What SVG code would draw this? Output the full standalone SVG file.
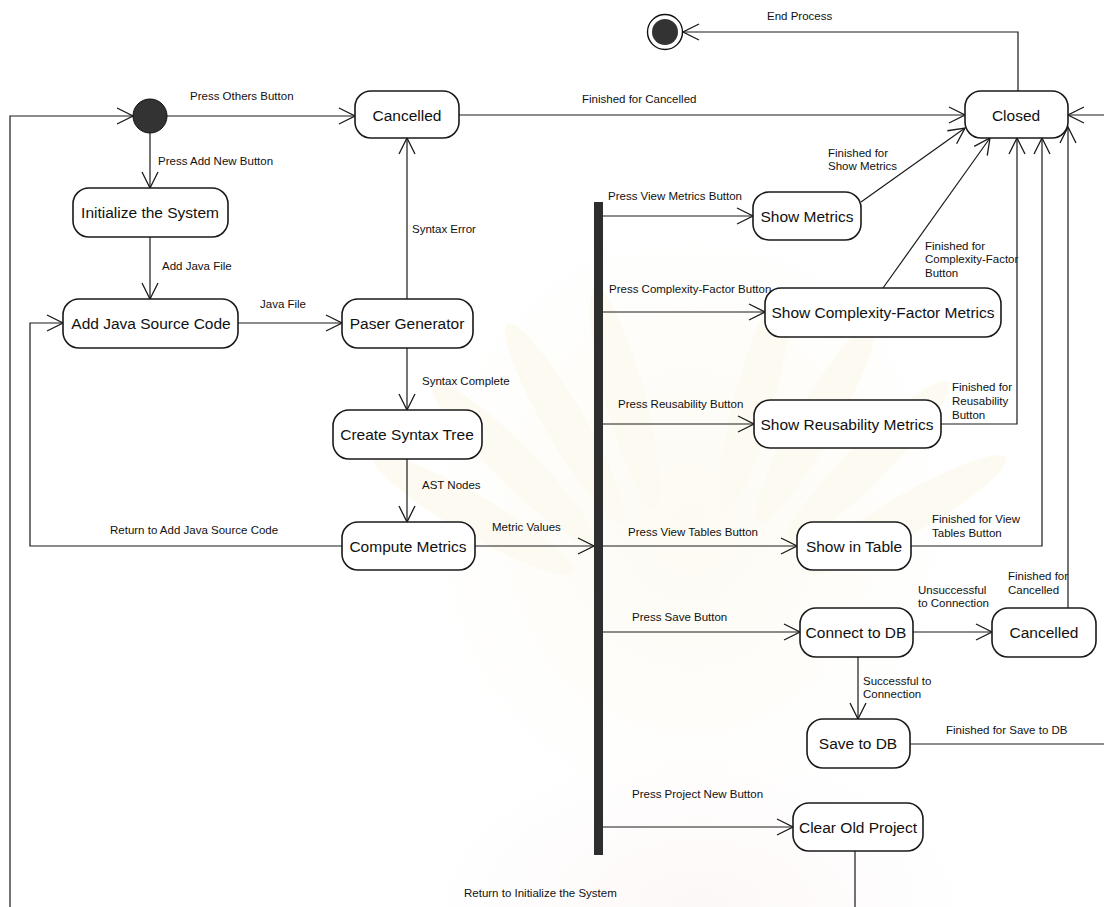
<svg xmlns="http://www.w3.org/2000/svg" width="1104" height="907" viewBox="0 0 1104 907">
  <defs>
    <marker id="arr" viewBox="0 0 18 18" refX="17" refY="9" markerWidth="18" markerHeight="18" markerUnits="userSpaceOnUse" orient="auto">
      <path d="M1,1 L17,9 L1,17" fill="none" stroke="#1a1a1a" stroke-width="1.3"/>
    </marker>
    <radialGradient id="glow" cx="0.5" cy="0.5" r="0.5">
      <stop offset="0" stop-color="#fbf5e0" stop-opacity="0.9"/>
      <stop offset="1" stop-color="#fbf5e0" stop-opacity="0"/>
    </radialGradient>
    <radialGradient id="rose" cx="0.5" cy="0.5" r="0.5">
      <stop offset="0" stop-color="#fcf0f0" stop-opacity="1"/>
      <stop offset="1" stop-color="#fcf0f0" stop-opacity="0"/>
    </radialGradient>
  </defs>
  <style>
    .state rect { fill: #ffffff; stroke: #1a1a1a; stroke-width: 1.6; }
    .state text { font-family: "Liberation Sans", Arial, sans-serif; font-size: 15.5px; fill: #111; text-anchor: middle; }
    .conn path { fill: none; stroke: #1a1a1a; stroke-width: 1.2; }
    .conn path.arrow { marker-end: url(#arr); }
    .lbl { font-family: "Liberation Sans", Arial, sans-serif; font-size: 11.5px; fill: #111; }
    .ray { fill: #fbf6e3; }
  </style>
  <rect x="0" y="0" width="1104" height="907" fill="#ffffff"/>

  <!-- faint background emblem -->
  <g id="watermark" opacity="0.45">
    <ellipse cx="690" cy="520" rx="260" ry="300" fill="url(#glow)"/>
    <g transform="translate(690,640)">
      <ellipse class="ray" cx="0" cy="-250" rx="20" ry="115" transform="rotate(-60)"/>
      <ellipse class="ray" cx="0" cy="-250" rx="20" ry="115" transform="rotate(-45)"/>
      <ellipse class="ray" cx="0" cy="-250" rx="20" ry="115" transform="rotate(-30)"/>
      <ellipse class="ray" cx="0" cy="-250" rx="20" ry="115" transform="rotate(-15)"/>
      <ellipse class="ray" cx="0" cy="-250" rx="20" ry="115" transform="rotate(15)"/>
      <ellipse class="ray" cx="0" cy="-250" rx="20" ry="115" transform="rotate(30)"/>
      <ellipse class="ray" cx="0" cy="-250" rx="20" ry="115" transform="rotate(45)"/>
      <ellipse class="ray" cx="0" cy="-250" rx="20" ry="115" transform="rotate(60)"/>
    </g>
    <ellipse cx="700" cy="905" rx="260" ry="150" fill="url(#rose)"/>
  </g>

  <!-- transitions -->
  <g id="connectors" class="conn">
    <path class="arrow" d="M855,851 L855,912 L10,912 L10,116 L133,116"/>
    <path class="arrow" d="M167,116 L355,116"/>
    <path class="arrow" d="M150,133 L150,188"/>
    <path class="arrow" d="M150,237 L150,299"/>
    <path class="arrow" d="M238,323 L342,323"/>
    <path class="arrow" d="M407,299 L407,138"/>
    <path class="arrow" d="M407,348 L407,410"/>
    <path class="arrow" d="M407,459 L407,522"/>
    <path class="arrow" d="M342,546 L30,546 L30,323 L63,323"/>
    <path class="arrow" d="M475,546 L594,546"/>
    <path class="arrow" d="M459,115 L965,115"/>
    <path class="arrow" d="M1018,91 L1018,32 L683,32"/>
    <path class="arrow" d="M603,216 L753,216"/>
    <path class="arrow" d="M603,312 L765,312"/>
    <path class="arrow" d="M603,424 L754,424"/>
    <path class="arrow" d="M603,546 L797,546"/>
    <path class="arrow" d="M603,632 L800,632"/>
    <path class="arrow" d="M603,827 L793,827"/>
    <path class="arrow" d="M861,202 L965,128"/>
    <path class="arrow" d="M883,288 L990,138"/>
    <path class="arrow" d="M941,424 L1017,424 L1017,138"/>
    <path class="arrow" d="M911,546 L1042,546 L1042,138"/>
    <path class="arrow" d="M1068,608 L1068,127"/>
    <path class="arrow" d="M913,632 L992,632"/>
    <path class="arrow" d="M858,657 L858,719"/>
    <path class="arrow" d="M910,744 L1106,744 L1106,115 L1068,115"/>
  </g>

  <!-- transition labels -->
  <g id="labels" class="lbl">
    <text x="190" y="100">Press Others Button</text>
    <text x="158" y="165">Press Add New Button</text>
    <text x="162" y="270">Add Java File</text>
    <text x="260" y="308">Java File</text>
    <text x="412" y="233">Syntax Error</text>
    <text x="422" y="385">Syntax Complete</text>
    <text x="422" y="489">AST Nodes</text>
    <text x="492" y="531">Metric Values</text>
    <text x="110" y="534">Return to Add Java Source Code</text>
    <text x="582" y="103">Finished for Cancelled</text>
    <text x="767" y="20">End Process</text>
    <text x="828" y="157">Finished for</text>
    <text x="828" y="170">Show Metrics</text>
    <text x="608" y="200">Press View Metrics Button</text>
    <text x="925" y="250">Finished for</text>
    <text x="925" y="263">Complexity-Factor</text>
    <text x="925" y="277">Button</text>
    <text x="609" y="293">Press Complexity-Factor Button</text>
    <text x="618" y="408">Press Reusability Button</text>
    <text x="952" y="391">Finished for</text>
    <text x="952" y="405">Reusability</text>
    <text x="952" y="419">Button</text>
    <text x="628" y="536">Press View Tables Button</text>
    <text x="932" y="523">Finished for View</text>
    <text x="932" y="537">Tables Button</text>
    <text x="632" y="621">Press Save Button</text>
    <text x="918" y="594">Unsuccessful</text>
    <text x="918" y="607">to Connection</text>
    <text x="1008" y="580">Finished for</text>
    <text x="1008" y="594">Cancelled</text>
    <text x="863" y="685">Successful to</text>
    <text x="863" y="698">Connection</text>
    <text x="946" y="734">Finished for Save to DB</text>
    <text x="632" y="798">Press Project New Button</text>
    <text x="464" y="897">Return to Initialize the System</text>
  </g>

  <!-- pseudo states and fork bar -->
  <g id="initial"><circle cx="150" cy="116" r="17" fill="#333" stroke="#111" stroke-width="1"/></g>
  <g id="final">
    <circle cx="665" cy="32" r="17.5" fill="#fff" stroke="#111" stroke-width="1.4"/>
    <circle cx="665" cy="32" r="13" fill="#333"/>
  </g>
  <g id="fork"><rect x="594" y="202" width="9" height="653" fill="#2e2e2e"/></g>

  <!-- states -->
  <g id="cancelled-top" class="state"><rect x="355" y="91" width="104" height="47" rx="16"/><text x="407" y="120.5">Cancelled</text></g>
  <g id="closed" class="state"><rect x="965" y="91" width="103" height="47" rx="16"/><text x="1016" y="120.5">Closed</text></g>
  <g id="initialize" class="state"><rect x="73" y="188" width="155" height="49" rx="16"/><text x="150" y="217.5">Initialize the System</text></g>
  <g id="add-java" class="state"><rect x="63" y="299" width="175" height="49" rx="16"/><text x="151" y="328.5">Add Java Source Code</text></g>
  <g id="paser" class="state"><rect x="342" y="299" width="131" height="49" rx="16"/><text x="407" y="328.5">Paser Generator</text></g>
  <g id="syntax-tree" class="state"><rect x="333" y="410" width="149" height="49" rx="16"/><text x="407" y="439.5">Create Syntax Tree</text></g>
  <g id="compute" class="state"><rect x="342" y="522" width="133" height="48" rx="16"/><text x="408" y="551.5">Compute Metrics</text></g>
  <g id="show-metrics" class="state"><rect x="753" y="192" width="108" height="48" rx="16"/><text x="807" y="221.5">Show Metrics</text></g>
  <g id="show-complexity" class="state"><rect x="765" y="288" width="236" height="49" rx="16"/><text x="883" y="317.5">Show Complexity-Factor Metrics</text></g>
  <g id="show-reusability" class="state"><rect x="754" y="400" width="187" height="48" rx="16"/><text x="847" y="429.5">Show Reusability Metrics</text></g>
  <g id="show-table" class="state"><rect x="797" y="522" width="114" height="48" rx="16"/><text x="854" y="551.5">Show in Table</text></g>
  <g id="connect-db" class="state"><rect x="800" y="608" width="113" height="49" rx="16"/><text x="856" y="637.5">Connect to DB</text></g>
  <g id="cancelled-db" class="state"><rect x="992" y="608" width="104" height="49" rx="16"/><text x="1044" y="637.5">Cancelled</text></g>
  <g id="save-db" class="state"><rect x="807" y="719" width="103" height="49" rx="16"/><text x="858" y="748.5">Save to DB</text></g>
  <g id="clear-project" class="state"><rect x="793" y="803" width="130" height="48" rx="16"/><text x="858" y="832.5">Clear Old Project</text></g>
</svg>
